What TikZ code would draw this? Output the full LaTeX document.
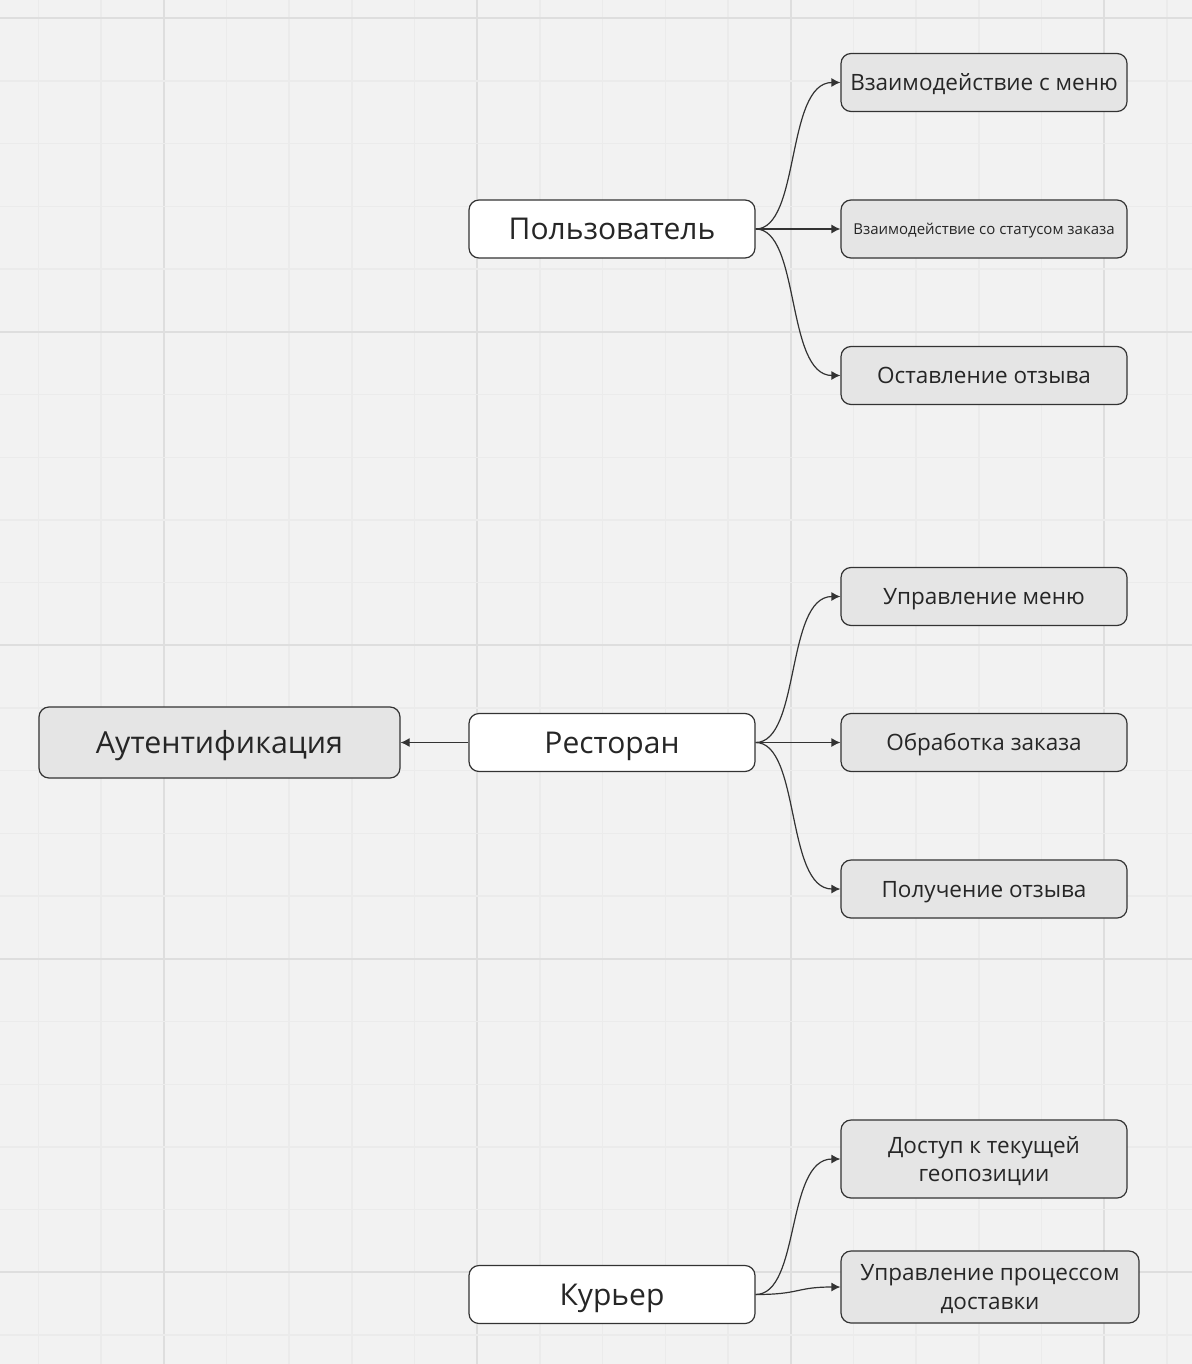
\documentclass[tikz,border=0pt]{standalone}
\usepackage{fontspec}
\setmainfont{Open Sans}
\usetikzlibrary{arrows.meta}
\begin{document}
\begin{tikzpicture}[x=0.5pt,y=-0.5pt]
\tikzstyle{minorline}=[draw=black!8,line width=0.7pt]
\tikzstyle{majorline}=[draw=black!13,line width=1pt]
\tikzstyle{main}=[draw=black!80,fill=white,rounded corners=5pt,line width=0.6pt,minimum width=143pt,minimum height=29pt,text=black!85,text height=10.7pt,text depth=0pt,font=\fontsize{15}{18}\selectfont]
\tikzstyle{sub}=[draw=black!80,fill=black!10,rounded corners=5pt,line width=0.6pt,minimum width=143pt,minimum height=29pt,text=black!85,align=center,text height=8pt,text depth=0pt,font=\fontsize{11.25}{14.5}\selectfont]
\tikzstyle{conn}=[-{Latex[length=4.5pt,width=4.5pt]},draw=black!80,line width=0.6pt]
%
\useasboundingbox (0,0) rectangle (1192,1364);
\fill[black!5] (0,0) rectangle (1192,1364);
\foreach \i in {0,...,18} {
  \pgfmathtruncatemacro{\m}{mod(\i+3,5)}
  \ifnum\m=0 \draw[majorline] ({38.3+62.7*\i},0) -- ({38.3+62.7*\i},1364);
  \else \draw[minorline] ({38.3+62.7*\i},0) -- ({38.3+62.7*\i},1364); \fi
}
\foreach \j in {0,...,21} {
  \pgfmathtruncatemacro{\m}{mod(\j,5)}
  \ifnum\m=0 \draw[majorline] (0,{18.3+62.7*\j}) -- (1192,{18.3+62.7*\j});
  \else \draw[minorline] (0,{18.3+62.7*\j}) -- (1192,{18.3+62.7*\j}); \fi
}
%
\node[main] at (612,229) (U) {Пользователь};
\node[main] at (612,742.5) (R) {Ресторан};
\node[main] at (612,1294.5) (K) {Курьер};
\node[main, fill=black!10, minimum width=180.5pt, minimum height=35.5pt, text height=10.8pt, font=\fontsize{15.2}{18}\selectfont] at (219.5,742.5) (A) {Аутентификация};
%
\node[sub] at (984,82.5) (U1) {Взаимодействие с меню};
\node[sub, text height=5.4pt, font=\fontsize{7.5}{9}\selectfont] at (984,229) (U2) {Взаимодействие со статусом заказа};
\node[sub] at (984,375.5) (U3) {Оставление отзыва};
%
\node[sub] at (984,596.5) (R1) {Управление меню};
\node[sub] at (984,742.5) (R2) {Обработка заказа};
\node[sub] at (984,889) (R3) {Получение отзыва};
%
\node[sub, minimum height=39pt, text height=22pt, font=\fontsize{11.25}{14}\selectfont] at (984,1159) (K1) {Доступ к текущей\\геопозиции};
\node[sub, minimum width=149pt, minimum height=36pt, text height=22.5pt] at (990,1287) (K2) {Управление процессом\\доставки};
%
\draw[conn] (U.east) .. controls +(45,0) and +(-55,0) .. (U1.west);
\draw[conn] (U.east) -- (U2.west);
\draw[conn] (U.east) .. controls +(45,0) and +(-55,0) .. (U3.west);
\draw[conn] (R.east) .. controls +(45,0) and +(-55,0) .. (R1.west);
\draw[conn] (R.east) -- (R2.west);
\draw[conn] (R.east) .. controls +(45,0) and +(-55,0) .. (R3.west);
\draw[conn] (K.east) .. controls +(45,0) and +(-55,0) .. (K1.west);
\draw[conn] (K.east) .. controls +(45,0) and +(-45,0) .. (K2.west);
\draw[conn] (R.west) -- (A.east);
\end{tikzpicture}
\end{document}
